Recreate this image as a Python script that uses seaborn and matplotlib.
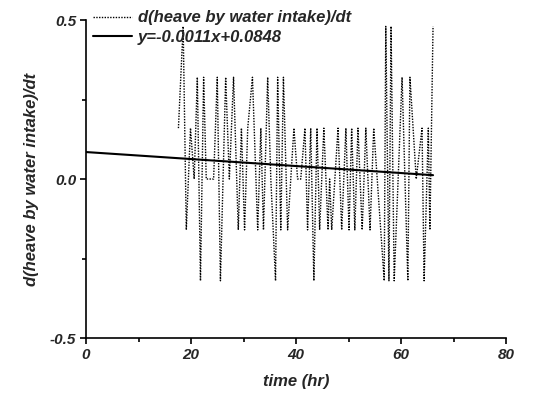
import seaborn as sns
import matplotlib.pyplot as plt
import numpy as np
import pandas as pd

# rate of heave by water intake
time_hr = [17.6, 18.5, 19.1, 19.9, 20.6, 21.2, 21.8, 22.4, 22.9, 24.3,
           25.0, 25.6, 26.6, 27.3, 28.1, 29.0, 29.6, 30.2, 30.8, 31.7,
           32.7, 33.3, 33.8, 34.6, 35.2, 36.1, 36.5, 37.1, 37.6, 38.4,
           39.6, 40.3, 40.9, 41.7, 42.2, 42.8, 43.4, 44.0, 44.5, 45.3,
           46.1, 46.4, 46.8, 48.0, 48.7, 49.5, 50.1, 50.6, 51.2, 51.8,
           52.6, 53.3, 54.1, 54.8, 56.8, 57.1, 57.7, 58.1, 58.7, 60.2,
           61.3, 61.7, 62.9, 64.0, 64.4, 65.2, 65.5, 66.1]
rate = [0.16, 0.48, -0.16, 0.16, 0.0, 0.32, -0.32, 0.32, 0.0, 0.0,
        0.32, -0.32, 0.32, 0.0, 0.32, -0.16, 0.16, -0.16, 0.16, 0.32,
        -0.16, 0.16, -0.16, 0.32, 0.0, -0.32, 0.32, -0.16, 0.32, -0.16,
        0.16, 0.0, 0.0, 0.16, -0.16, 0.16, -0.32, 0.16, -0.16, 0.16,
        -0.16, 0.0, -0.16, 0.16, -0.16, 0.16, -0.16, 0.16, -0.16, 0.16,
        -0.16, 0.16, -0.16, 0.16, -0.32, 0.48, -0.32, 0.48, -0.32, 0.32,
        -0.32, 0.32, 0.0, 0.16, -0.32, 0.16, -0.16, 0.48]

# linear fit shown in the legend
slope = -0.0011
intercept = 0.0848
fit_x = [0, 66.1]

x_ticks = [0, 20, 40, 60, 80]
y_ticks = [-0.5, 0.0, 0.5]
y_tick_labels = ["-0.5", "0.0", "0.5"]

sns.set_style("ticks")
plt.rcParams['font.family'] = ['Liberation Sans', 'DejaVu Sans']
plt.rcParams['font.weight'] = 'bold'
plt.rcParams['font.style'] = 'italic'

df = pd.DataFrame({"time": time_hr, "rate": rate})
fit = pd.DataFrame({"time": fit_x,
                    "rate": [slope * x + intercept for x in fit_x]})

fig = plt.figure(figsize=(5.49, 3.94), dpi=100)
ax = fig.add_axes([0.1567, 0.1421, 0.765, 0.8071])

sns.lineplot(data=df, x="time", y="rate", ax=ax, color="black",
             linewidth=1.0, linestyle=(0, (1, 1)), estimator=None, sort=False,
             label="d(heave by water intake)/dt")
sns.lineplot(data=fit, x="time", y="rate", ax=ax, color="black",
             linewidth=1.5, estimator=None,
             label="y=-0.0011x+0.0848")

ax.set_xlim(0, 80)
ax.set_ylim(-0.5, 0.5)
ax.set_xticks(x_ticks)
ax.set_xticks([10, 30, 50, 70], minor=True)
ax.set_yticks(y_ticks)
ax.set_yticks([-0.25, 0.25], minor=True)
tick_font = {"fontsize": 11, "fontweight": "bold", "fontstyle": "italic"}
ax.set_xticklabels([str(v) for v in x_ticks], **tick_font)
ax.set_yticklabels(y_tick_labels, **tick_font)
ax.tick_params(axis="both", which="major", length=4, width=1.2,
               direction="out", color="black", pad=3)
ax.tick_params(axis="both", which="minor", length=3, width=1.2,
               direction="out", color="black")

sns.despine(ax=ax)
for s in ["left", "bottom"]:
    ax.spines[s].set_linewidth(1.2)
    ax.spines[s].set_color("black")

ax.set_xlabel("time (hr)", fontsize=12, fontweight="bold", fontstyle="italic",
              labelpad=9)
ax.set_ylabel("d(heave by water intake)/dt", fontsize=12, fontweight="bold",
              fontstyle="italic", labelpad=8)

leg = ax.legend(loc="upper left", bbox_to_anchor=(0.017, 1.03), frameon=False,
                borderpad=0, borderaxespad=0, handlelength=2.3,
                handletextpad=0.4, labelspacing=0.25,
                prop={"size": 12, "weight": "bold", "style": "italic"})

fig.savefig("out.png", dpi=100)
